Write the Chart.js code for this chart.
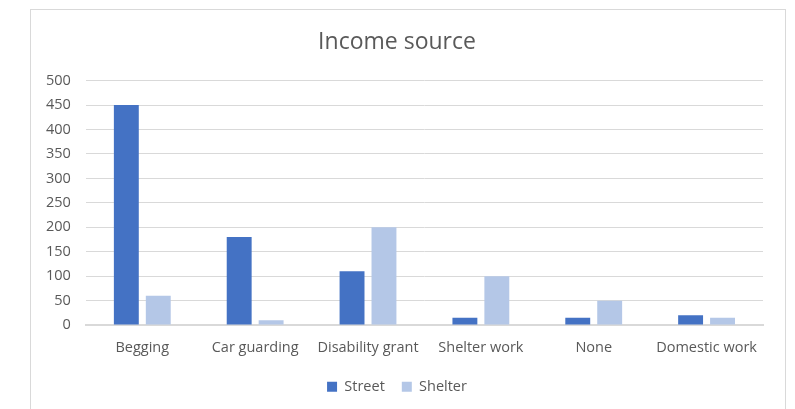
<!DOCTYPE html>
<html>
<head>
<meta charset="utf-8">
<script src="https://cdn.jsdelivr.net/npm/chart.js@4"></script>
<style>
  html, body { margin: 0; padding: 0; background: #fff; }
  .frame {
    position: absolute;
    left: 30px; top: 9px;
    width: 754px; height: 410px;
    border: 1px solid #d9d9d9;
    border-bottom: none;
  }
  canvas { display: block; }
</style>
</head>
<body>
<div class="frame">
  <canvas id="incomeChart" width="754" height="400"></canvas>
</div>
<script>
const categories = ['Begging', 'Car guarding', 'Disability grant', 'Shelter work', 'None', 'Domestic work'];
const streetValues = [450, 180, 110, 15, 15, 20];
const shelterValues = [60, 10, 200, 100, 50, 15];
const yTicks = [0, 50, 100, 150, 200, 250, 300, 350, 400, 450, 500];

const ctx = document.getElementById('incomeChart');

new Chart(ctx, {
    type: 'bar',
    data: {
        labels: categories,
        datasets: [{
            label: 'Street',
            data: streetValues,
            backgroundColor: '#4472C4'
        }, {
            label: 'Shelter',
            data: shelterValues,
            backgroundColor: '#B4C7E7'
        }]
    },
    options: {
        responsive: false,
        animation: false,
        datasets: {
            bar: {
                categoryPercentage: 0.566,
                barPercentage: 0.78
            }
        },
        layout: {
            padding: { left: 0, right: 22, top: 15, bottom: 6 }
        },
        scales: {
            x: {
                grid: { display: false },
                border: { color: '#d9d9d9', width: 2 },
                ticks: {
                    color: '#595959',
                    font: { family: 'Open Sans', size: 14.5 },
                    padding: 6,
                    maxRotation: 0,
                    autoSkip: false
                }
            },
            y: {
                min: 0,
                max: 500,
                afterBuildTicks: (axis) => {
                    axis.ticks = yTicks.map(v => ({ value: v }));
                },
                grid: { color: '#d9d9d9', drawTicks: false },
                border: { display: false },
                ticks: {
                    color: '#595959',
                    font: { family: 'Open Sans', size: 14.5 },
                    padding: 15
                }
            }
        },
        plugins: {
            title: {
                display: true,
                text: 'Income source',
                color: '#595959',
                font: { family: 'Open Sans', size: 23, weight: 'normal' },
                padding: { top: 4, bottom: 24 }
            },
            legend: {
                position: 'bottom',
                labels: {
                    boxWidth: 10,
                    boxHeight: 10,
                    color: '#595959',
                    font: { family: 'Open Sans', size: 14.5 },
                    padding: 17
                }
            },
            tooltip: { enabled: false }
        }
    }
});
</script>
</body>
</html>
